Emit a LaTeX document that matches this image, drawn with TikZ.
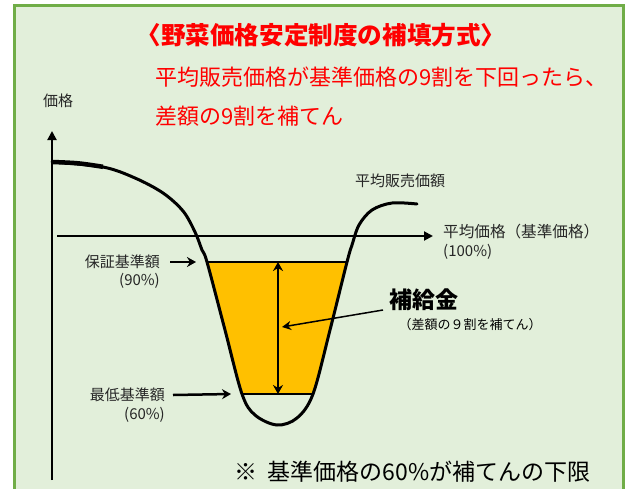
\documentclass[tikz,border=0pt]{standalone}
\usepackage{fontspec}
\setmainfont{Noto Sans CJK JP}
\usetikzlibrary{arrows.meta}
\definecolor{bggreen}{HTML}{E2EFDA}
\definecolor{framegreen}{HTML}{70AD47}
\definecolor{fillyellow}{HTML}{FFC000}
\definecolor{redtext}{HTML}{FF0000}
\begin{document}
\begin{tikzpicture}[x=1pt,y=-1pt,
  lbl/.style={font=\fontsize{15pt}{18pt}\selectfont, inner sep=0pt, text=black!85},
  redlbl/.style={font=\fontsize{22pt}{25pt}\selectfont, inner sep=0pt, text=redtext},
  curve/.style={line width=3pt, line cap=round},
  axisline/.style={line width=2pt, -{Triangle[length=9pt,width=9pt]}},
  ptr/.style={line width=2.5pt, -{Stealth[length=9pt,width=10pt]}},
  thinptr/.style={line width=1.5pt, -{Stealth[length=9pt,width=9pt]}},
  dblptr/.style={line width=1.6pt, {Stealth[length=9pt,width=10pt]}-{Stealth[length=9pt,width=10pt]}},
  edge/.style={line width=2pt}]
\useasboundingbox (0,0) rectangle (629,488);
\fill[white] (0,0) rectangle (629,488);
\fill[bggreen] (14,5) rectangle (623,492);
\draw[framegreen, line width=3pt] (14,492) -- (14,5) -- (623,5) -- (623,492);

% texts
\node[font=\bfseries\fontsize{24.6pt}{28pt}\selectfont, text=redtext, inner sep=0pt] (title) at (321,35) {〈野菜価格安定制度の補填方式〉};
\node[redlbl, anchor=west] (line2) at (155,77) {平均販売価格が基準価格の9割を下回ったら、};
\node[redlbl, anchor=west] (line3) at (155,116) {差額の9割を補てん};
\node[lbl] (ylab) at (58,101) {価格};
\node[lbl, anchor=west] (avgsales) at (355,181) {平均販売価額};
\node[lbl, anchor=west, font=\fontsize{15.6pt}{18pt}\selectfont] (avgprice) at (443,232) {平均価格（基準価格）};
\node[lbl, anchor=west] (p100) at (443,252) {(100\%)};
\node[lbl, anchor=east] (guar) at (160,262) {保証基準額};
\node[lbl, anchor=east] (p90) at (160,281) {(90\%)};
\node[lbl, anchor=east] (minb) at (165,395) {最低基準額};
\node[lbl, anchor=east] (p60) at (165,415) {(60\%)};
\node[font=\bfseries\fontsize{23pt}{26pt}\selectfont, inner sep=0pt] (subsidy) at (424,300) {補給金};
\node[font=\fontsize{13pt}{16pt}\selectfont, inner sep=0pt] (subnote) at (470,325) {（差額の９割を補てん）};
\node[font=\fontsize{23pt}{26pt}\selectfont, inner sep=0pt, anchor=west] (foot) at (234,472) {※\ \ 基準価格の60\%が補てんの下限};

% coordinates
\coordinate (o) at (52,480);
\coordinate (ytop) at (52,131);
\coordinate (hstart) at (57,236);
\coordinate (hend) at (433,236);
\coordinate (tl) at (207,262);
\coordinate (tr) at (347,262);
\coordinate (bl) at (242,394);
\coordinate (br) at (313,394);
\coordinate (mt) at (278,262);
\coordinate (mb) at (278,394);
\coordinate (g90) at (196,262);
\coordinate (g60) at (231,394);
\coordinate (ptrstart) at (383,310);
\coordinate (ptrend) at (282,327);

% yellow area
\begin{scope}
\clip (0,262) rectangle (629,394);
\fill[fillyellow] plot[smooth, tension=0.55] coordinates {(195,232) (202,250) (207,262) (225,330) (242,394) (255,415) (277,425) (297,418) (313,394) (330,330) (347,262) (352,245) (359,225)} -- cycle;
\end{scope}
\draw[edge] (tl) -- (tr);
\draw[edge] (bl) -- (br);

% axes
\draw[axisline] (o) -- (ytop);
\draw[axisline] (hstart) -- (hend);

% curve
\draw[curve] plot[smooth, tension=0.55] coordinates {(52,162) (103,167) (135,178) (163,193) (183,211) (195,232) (202,250) (207,262) (225,330) (242,394) (255,415) (277,425) (297,418) (313,394) (330,330) (347,262) (352,245) (359,225) (372,210) (392,203) (417,204)};
\draw[line width=4.5pt] plot[smooth, tension=0.55] coordinates {(52,162) (78,163.3) (103,166.8)};

% arrows
\draw[dblptr] (mt) -- (mb);
\draw[ptr] (guar.east) ++(10,0) coordinate (gs) (gs) -- (g90);
\draw[ptr] (minb.east) ++(8,0) coordinate (ms) (ms) -- (g60);
\draw[thinptr] (ptrstart) -- (ptrend);
\end{tikzpicture}
\end{document}
